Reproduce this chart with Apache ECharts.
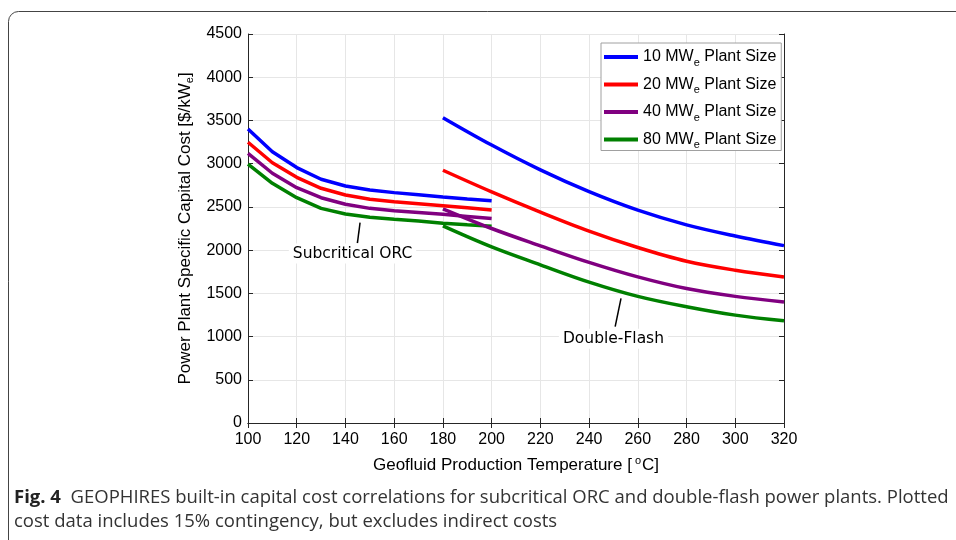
<!DOCTYPE html>
<html><head><meta charset="utf-8">
<script src="https://cdn.jsdelivr.net/npm/echarts@6/dist/echarts.min.js"></script>
<style>html,body{margin:0;padding:0;background:#fff}#c{width:956px;height:540px}</style>
</head><body><div id="c"></div>
<script>
// ---- data ----
const plantSizes = ['10', '20', '40', '80'];
const seriesColors = ['#0000ff', '#ff0000', '#800080', '#008000'];

const orcTemps = [100, 110, 120, 130, 140, 150, 160, 170, 180, 190, 200];
const orc10 = [3400, 3138, 2955, 2820, 2742, 2695, 2665, 2640, 2615, 2592, 2570];
const orc20 = [3248, 3011, 2842, 2715, 2637, 2588, 2560, 2537, 2514, 2490, 2464];
const orc40 = [3120, 2889, 2722, 2606, 2530, 2483, 2456, 2435, 2414, 2390, 2366];
const orc80 = [2996, 2773, 2606, 2483, 2418, 2379, 2356, 2336, 2312, 2293, 2276];

const dfTemps = [180, 200, 220, 240, 260, 280, 300, 320];
const df10 = [3532, 3215, 2928, 2676, 2462, 2292, 2163, 2052];
const df20 = [2924, 2674, 2440, 2220, 2030, 1871, 1767, 1690];
const df40 = [2478, 2250, 2050, 1858, 1690, 1555, 1465, 1400];
const df80 = [2280, 2037, 1830, 1630, 1465, 1345, 1248, 1182];

const xMin = 100, xMax = 320, xStep = 20;
const yMin = 0, yMax = 4500, yStep = 500;

// annotations: [label, textX, textY, lineFromX, lineFromY, lineToX, lineToY]
const annotations = [
  ['Subcritical ORC', 142.9, 1960, 146.0, 2317, 144.9, 2080],
  ['Double-Flash', 250.0, 975, 253.1, 1442, 250.7, 1114]
];
const captionLine1Bold = 'Fig. 4';
const captionLine1 = '  GEOPHIRES built-in capital cost correlations for subcritical ORC and double-flash power plants. Plotted';
const captionLine2 = 'cost data includes 15% contingency, but excludes indirect costs';

// ---- chart ----
const chart = echarts.init(document.getElementById('c'), null, {renderer: 'canvas'});
const FONT = 'Liberation Sans';
const AX = '#262626';
const names = plantSizes.map(s => s + ' MWe Plant Size');
const zip = (xs, ys) => xs.map((x, i) => [x, ys[i]]);
const orcSets = [orc10, orc20, orc40, orc80];
const dfSets = [df10, df20, df40, df80];

const series = [];
orcSets.forEach((d, i) => series.push({
  name: names[i], type: 'line', data: zip(orcTemps, d), showSymbol: false, symbol: 'none',
  lineStyle: {color: seriesColors[i], width: 3.5}, itemStyle: {color: seriesColors[i]}, z: 5 - i
}));
dfSets.forEach((d, i) => series.push({
  name: names[i], type: 'line', data: zip(dfTemps, d), showSymbol: false, symbol: 'none',
  smooth: 0.35,
  lineStyle: {color: seriesColors[i], width: 3.5}, itemStyle: {color: seriesColors[i]}, z: 5 - i
}));

const axisCommon = {
  axisLine: {show: true, lineStyle: {color: AX, width: 1}},
  axisTick: {show: true, inside: true, length: 5, lineStyle: {color: AX}},
};

chart.setOption({
  animation: false,
  backgroundColor: '#fff',
  grid: {left: 248, right: 172, top: 34, bottom: 117, containLabel: false},
  legend: {
    data: names, orient: 'vertical', left: 601, top: 43,
    padding: [6, 5, 0, 3], itemGap: 8.5, itemWidth: 34, itemHeight: 4, itemTextGap: 1,
    icon: 'rect', backgroundColor: '#fff', borderColor: '#a0a0a0', borderWidth: 1,
    formatter: n => '{t|' + n.split(' ')[0] + ' MW}{s|e}{t| Plant Size}',
    textStyle: {
      color: '#000', fontFamily: FONT, fontSize: 16,
      rich: {t: {fontFamily: FONT, fontSize: 16, color: '#000', lineHeight: 20},
             s: {fontFamily: FONT, fontSize: 11, color: '#000', padding: [11, 0, 0, 0]}}
    }
  },
  xAxis: [
    Object.assign({
      type: 'value', min: xMin, max: xMax, interval: xStep, position: 'bottom',
      axisLabel: {color: '#000', fontFamily: FONT, fontSize: 16, margin: 9},
      splitLine: {show: true, lineStyle: {color: '#e6e6e6'}},
      name: '{t|Geofluid Production Temperature [}{s|o}{t|C]}', nameLocation: 'middle', nameGap: 32,
      nameTextStyle: {fontFamily: FONT, fontSize: 17, color: '#000',
        rich: {t: {fontFamily: FONT, fontSize: 17, color: '#000', lineHeight: 20},
               s: {fontFamily: FONT, fontSize: 11, color: '#000', padding: [0, 1, 10, 3]}}}
    }, axisCommon),
    Object.assign({
      type: 'value', min: xMin, max: xMax, interval: xStep, position: 'top',
      axisLabel: {show: false}, splitLine: {show: false}
    }, axisCommon)
  ],
  yAxis: [
    Object.assign({
      type: 'value', min: yMin, max: yMax, interval: yStep, position: 'left',
      axisLabel: {color: '#000', fontFamily: FONT, fontSize: 16, margin: 6, formatter: v => String(v)},
      splitLine: {show: true, lineStyle: {color: '#e6e6e6'}},
      name: '{t|Power Plant Specific Capital Cost [$/kW}{s|e}{t|]}', nameLocation: 'middle', nameGap: 45, nameRotate: 90,
      nameTextStyle: {fontFamily: FONT, fontSize: 17, color: '#000',
        rich: {t: {fontFamily: FONT, fontSize: 17, color: '#000', lineHeight: 20},
               s: {fontFamily: FONT, fontSize: 11, color: '#000', padding: [10, 0, 0, 0]}}}
    }, axisCommon),
    Object.assign({
      type: 'value', min: yMin, max: yMax, interval: yStep, position: 'right',
      axisLabel: {show: false}, splitLine: {show: false}
    }, axisCommon)
  ],
  series: series
});

// graphics: frame, annotations, caption
const g = [];
g.push({type: 'rect', shape: {x: 8.5, y: 11.5, width: 1000, height: 600, r: 10},
  style: {fill: 'none', stroke: '#444', lineWidth: 1}, z: 100, silent: true});
annotations.forEach(a => {
  const t = chart.convertToPixel({xAxisIndex: 0, yAxisIndex: 0}, [a[1], a[2]]);
  const p1 = chart.convertToPixel({xAxisIndex: 0, yAxisIndex: 0}, [a[3], a[4]]);
  const p2 = chart.convertToPixel({xAxisIndex: 0, yAxisIndex: 0}, [a[5], a[6]]);
  g.push({type: 'line', shape: {x1: p1[0], y1: p1[1], x2: p2[0], y2: p2[1]},
    style: {stroke: '#000', lineWidth: 1.5}, z: 100});
  g.push({type: 'text', x: t[0], y: t[1], z: 100,
    style: {text: a[0], fill: '#000', font: '15.5px "DejaVu Sans"',
      align: 'center', verticalAlign: 'middle', backgroundColor: '#fff', padding: [2, 4]}});
});
g.push({type: 'text', left: 14, top: 488, z: 100, style: {
  text: '{b|' + captionLine1Bold + '}{n|' + captionLine1 + '}',
  rich: {b: {font: 'bold 18.5px "Open Sans"', fill: '#222'},
         n: {font: '18.5px "Open Sans"', fill: '#333'}}}});
g.push({type: 'text', left: 14, top: 512, z: 100, style: {
  text: captionLine2, font: '18.5px "Open Sans"', fill: '#333'}});
chart.setOption({graphic: g});
</script>
</body></html>
